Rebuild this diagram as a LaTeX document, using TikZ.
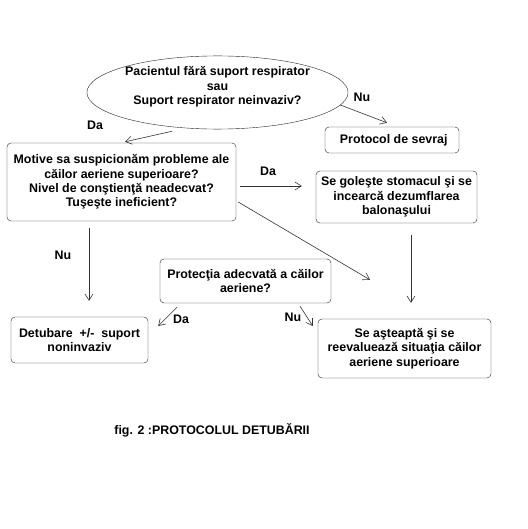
\documentclass[tikz,border=0pt]{standalone}
\usepackage{fontspec}
\setmainfont{Liberation Sans}
\usepackage{tikz}
\usetikzlibrary{arrows.meta,positioning,shapes.geometric}
\newcommand{\flowfont}{\fontsize{12.4pt}{14.3pt}\selectfont\bfseries}
\tikzset{%
  box/.style={draw=black!85,rounded corners=4pt,fill=white,
    align=center,inner sep=0pt,font=\flowfont},
  question/.style={ellipse,draw=black!85,fill=white,
    align=center,inner sep=0pt,font=\flowfont},
  flow/.style={-{Straight Barb[length=2.2mm,width=2.8mm]},line width=0.6pt,black!80},
  answer/.style={font=\flowfont}
}
\begin{document}
\begin{tikzpicture}[x=1pt,y=-1pt]
      \path[fill=white] (0,0) rectangle (527,529);
      \node[question,minimum width=221pt,minimum height=61pt,text depth=14pt] (patient) at (217.5,92.5)
        {Pacientul fără suport respirator\\sau\\Suport respirator neinvaziv?};
      \node[box,minimum width=229pt,minimum height=78pt] (motive) at (121.5,182)
        {Motive sa suspicionăm probleme ale\\căilor aeriene superioare?\\Nivel de conştienţă neadecvat?\\Tuşeşte ineficient?};
      \node[box,minimum width=134pt,minimum height=26pt] (sevraj) at (392,140) {\ Protocol de sevraj};
      \node[box,minimum width=161pt,minimum height=52pt] (golire) at (396.5,197)
        {Se goleşte stomacul şi se\\incearcă dezumflarea\\balonaşului};
      \node[box,minimum width=171pt,minimum height=44pt] (protectie) at (245.5,281)
        {Protecţia adecvată a căilor\\aeriene?};
      \node[box,minimum width=137pt,minimum height=46pt] (detubare) at (79.5,340)
        {Detubare\ \ +/-\ \ suport\\noninvaziv};
      \node[box,minimum width=173pt,minimum height=59pt] (asteapta) at (404.5,348.5)
        {Se aşteaptă şi se\\reevaluează situaţia căilor\\aeriene superioare};
      \node[answer] (daA) at (95,125) {Da};
      \node[answer] (nuA) at (362,97) {Nu};
      \node[answer] (daB) at (268,171) {Da};
      \node[answer] (nuB) at (63,255) {Nu};
      \node[answer] (daC) at (181,319) {Da};
      \node[answer] (nuC) at (293,317) {Nu};
      \node[answer] (caption) at (212,430) {fig. 2 :PROTOCOLUL DETUBĂRII};
      \draw[flow] ([xshift=-45.5pt,yshift=-2pt]patient.south) -- ([xshift=3.5pt,yshift=1pt]motive.north);
      \draw[flow] ([xshift=-8pt,yshift=-12.5pt]patient.east) -- ([xshift=-5pt,yshift=4pt]sevraj.north);
      \draw[flow] ([xshift=4pt,yshift=-4pt]motive.east) -- ([xshift=-14pt,yshift=11pt]golire.west);
      \draw[flow] ([xshift=2pt,yshift=-20pt]motive.east) -- ([xshift=-34.5pt,yshift=39pt]asteapta.north);
      \draw[flow] ([xshift=-32.5pt,yshift=-7pt]motive.south) -- ([xshift=9.5pt,yshift=16pt]detubare.north);
      \draw[flow] ([xshift=14.5pt,yshift=-12pt]golire.south) -- ([xshift=6.5pt,yshift=16pt]asteapta.north);
      \draw[flow] ([xshift=-68.5pt,yshift=-4pt]protectie.south) -- ([xshift=10pt,yshift=14pt]detubare.east);
      \draw[flow] ([xshift=54.5pt,yshift=-3pt]protectie.south) -- ([xshift=-5pt,yshift=22.5pt]asteapta.west);
    \end{tikzpicture}
\end{document}
